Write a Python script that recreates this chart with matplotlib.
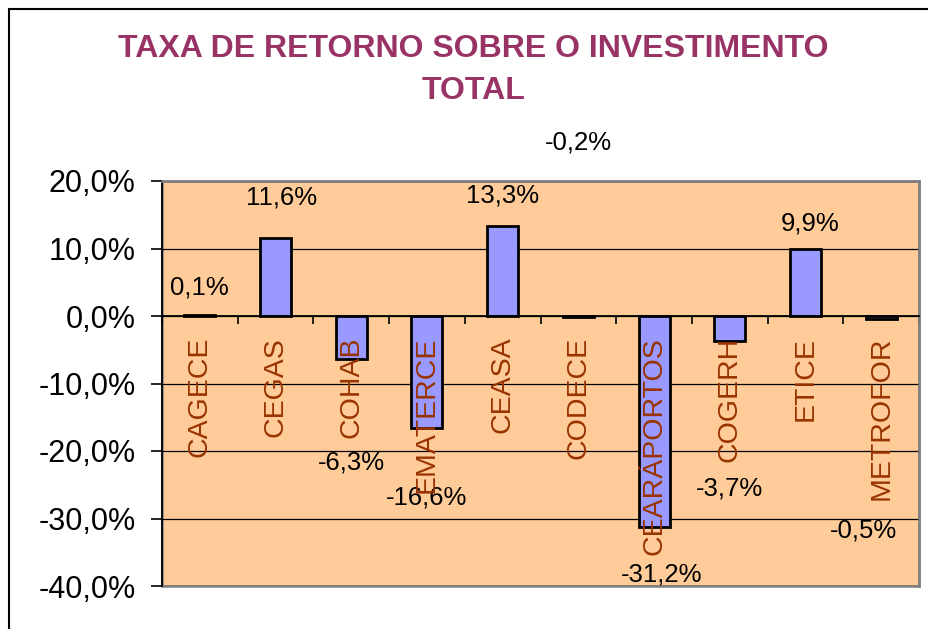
"""
Taxa de retorno sobre o investimento total, por empresa.
Recreated as an Excel-style column chart.
"""

import matplotlib

matplotlib.use("Agg")
import matplotlib.pyplot as plt
import numpy as np
from matplotlib.patches import Rectangle

plt.rcParams["font.family"] = ["Liberation Sans", "DejaVu Sans"]

companies = [
    "CAGECE", "CEGAS", "COHAB", "EMATERCE", "CEASA",
    "CODECE", "CEARÁPORTOS", "COGERH", "ETICE", "METROFOR",
]
return_pct = [0.1, 11.6, -6.3, -16.6, 13.3, -0.2, -31.2, -3.7, 9.9, -0.5]
y_ticks_pct = [-40, -30, -20, -10, 0, 10, 20]

# data labels were dragged around by hand in the original, so keep their spots
label_y = [4.2, 17.5, -21.7, -26.9, 17.8, 25.7, -38.3, -25.6, 13.7, -31.8]
label_dx = [0, 0.08, 0, 0, 0, 0, 0.1, 0, 0.06, -0.23]

title_color = "#993366"
cat_color = "#993300"
bar_color = "#9999FF"
plot_bg = "#FFCC99"


def pct_fmt(v):
    return f"{v:.1f}%".replace(".", ",")


fig = plt.figure(figsize=(9.29, 6.29), dpi=100)
ax = fig.add_axes([162 / 929, 43 / 629, 757 / 929, 405 / 629])
ax.set_facecolor(plot_bg)

x = np.arange(len(companies))
ax.bar(x, return_pct, width=0.41, color=bar_color, edgecolor="black",
       linewidth=2.0, zorder=3)

ax.set_xlim(-0.5, len(companies) - 0.5)
ax.set_ylim(-40, 20)
ax.set_yticks(y_ticks_pct, labels=[pct_fmt(v) for v in y_ticks_pct])
ax.yaxis.grid(True, color="black", linewidth=0.9, zorder=1)
ax.set_axisbelow(True)

# category axis crosses at zero, ticks between categories
ax.spines["bottom"].set_position(("data", 0))
ax.spines["bottom"].set_color("black")
ax.spines["bottom"].set_linewidth(1.3)
ax.spines["bottom"].set_zorder(4)
ax.spines["left"].set_color("black")
ax.spines["left"].set_linewidth(1.3)
for side in ("top", "right"):
    ax.spines[side].set_color("#808080")
    ax.spines[side].set_linewidth(1.8)
ax.add_patch(Rectangle((0, 0), 1, 1, transform=ax.transAxes, fill=False,
                       edgecolor="#808080", linewidth=1.8, clip_on=False,
                       zorder=0.5))

ax.set_xticks(np.arange(-0.5, len(companies), 1), labels=[])
ax.tick_params(axis="x", which="major", direction="out", length=6,
               width=1.2, color="black")
ax.tick_params(axis="y", direction="out", length=8, width=1.2, pad=11,
               labelsize=22)

# category names hang below the zero line and sit on top of the bars
for i, name in enumerate(companies):
    ax.annotate(name, (x[i], 0), xytext=(0, -15), textcoords="offset points",
                rotation=90, ha="center", va="top", fontsize=20.5,
                color=cat_color, zorder=6, annotation_clip=False)

for i, v in enumerate(return_pct):
    ax.text(x[i] + label_dx[i], label_y[i], pct_fmt(v), ha="center",
            va="center", fontsize=18.5, color="black", clip_on=False,
            zorder=5)

fig.text(473 / 929, 1 - 70 / 629,
         "TAXA DE RETORNO SOBRE O INVESTIMENTO\nTOTAL",
         ha="center", va="center", fontsize=23, fontweight="bold",
         color=title_color, linespacing=1.55)

# chart frame, runs off the right and bottom edges
fig.patches.append(Rectangle((9 / 929, -0.1), 1.2, 1.1 - 9 / 629,
                             transform=fig.transFigure, fill=False,
                             edgecolor="black", linewidth=1.5))

fig.savefig("out.png", dpi=100)
